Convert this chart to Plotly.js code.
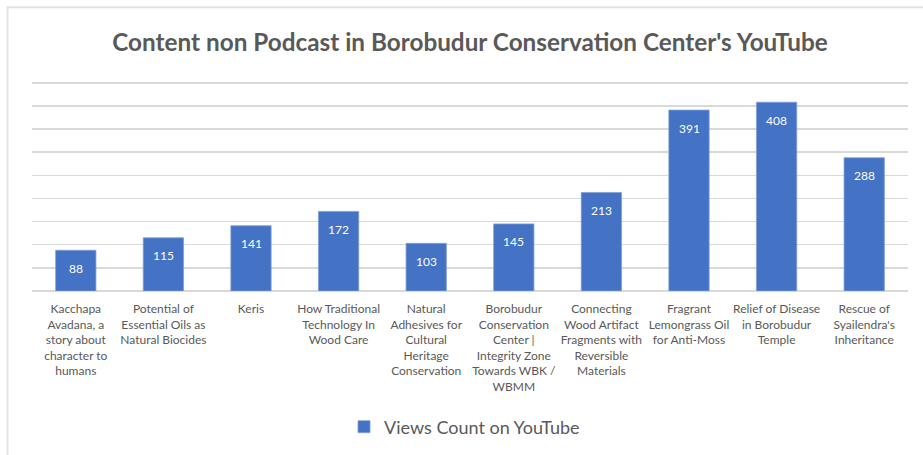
<!DOCTYPE html>
<html>
<head>
<meta charset="utf-8">
<script src="https://cdn.plot.ly/plotly-3.0.1.min.js"></script>
<style>
  html, body { margin: 0; padding: 0; background: #ffffff; }
  #chart { width: 923px; height: 455px; }
</style>
</head>
<body>
<div id="chart"></div>
<script>
const categories = [
  "Kacchapa Avadana, a story about character to humans",
  "Potential of Essential Oils as Natural Biocides",
  "Keris",
  "How Traditional Technology In Wood Care",
  "Natural Adhesives for Cultural Heritage Conservation",
  "Borobudur Conservation Center | Integrity Zone Towards WBK / WBMM",
  "Connecting Wood Artifact Fragments with Reversible Materials",
  "Fragrant Lemongrass Oil for Anti-Moss",
  "Relief of Disease in Borobudur Temple",
  "Rescue of Syailendra's Inheritance"
];
const tickLabels = [
  "Kacchapa<br>Avadana, a<br>story about<br>character to<br>humans",
  "Potential of<br>Essential Oils as<br>Natural Biocides",
  "Keris",
  "How Traditional<br>Technology In<br>Wood Care",
  "Natural<br>Adhesives for<br>Cultural<br>Heritage<br>Conservation",
  "Borobudur<br>Conservation<br>Center |<br>Integrity Zone<br>Towards WBK /<br>WBMM",
  "Connecting<br>Wood Artifact<br>Fragments with<br>Reversible<br>Materials",
  "Fragrant<br>Lemongrass Oil<br>for Anti-Moss",
  "Relief of Disease<br>in Borobudur<br>Temple",
  "Rescue of<br>Syailendra's<br>Inheritance"
];
const views = [88, 115, 141, 172, 103, 145, 213, 391, 408, 288];
const seriesName = "Views Count on YouTube";
const titleText = "Content non Podcast in Borobudur Conservation Center's YouTube";

const W = 923, H = 455;
const YMAX = 456;                 // headroom so the 450 gridline is not clipped at the edge
const pxPerUnit = 208 / 450;
const M = {l: 32, r: 15, t: 291 - YMAX * pxPerUnit, b: 164};
const pw = W - M.l - M.r, ph = H - M.t - M.b;
const px = v => (v - M.l) / pw;
const py = v => (H - M.b - v) / ph;

const FONT = "Lato, 'Liberation Sans', sans-serif";
const GREY = "#595959";

const trace = {
  type: "bar",
  x: categories,
  y: views,
  name: seriesName,
  marker: {color: "#4472C4", line: {color: "#7f9fd6", width: 0.8}},
  width: 0.46,
  hoverinfo: "x+y"
};

const valueLabels = categories.map((c, i) => ({
  x: c, y: views[i], xref: "x", yref: "y",
  text: String(views[i]), showarrow: false,
  yanchor: "middle", yshift: -18,
  font: {family: FONT, size: 12, color: "#ffffff"}
}));

const layout = {
  width: W, height: H,
  margin: M,
  paper_bgcolor: "#ffffff",
  plot_bgcolor: "#ffffff",
  font: {family: FONT, color: GREY},
  title: {
    text: "<b>" + titleText + "</b>",
    font: {family: FONT, size: 24.3, color: GREY},
    x: 0.5, xref: "paper", xanchor: "center",
    y: 1 - 42 / H, yref: "container", yanchor: "middle"
  },
  xaxis: {
    type: "category",
    tickvals: categories,
    ticktext: tickLabels,
    tickfont: {family: FONT, size: 12, color: GREY},
    tickangle: 0,
    ticklabelstandoff: 9,
    showgrid: false,
    showline: false,
    ticks: "",
    fixedrange: true
  },
  yaxis: {
    range: [0, YMAX],
    dtick: 50,
    showticklabels: false,
    showgrid: true,
    gridcolor: "#d9d9d9",
    gridwidth: 1.5,
    zeroline: true,
    zerolinecolor: "#d9d9d9",
    zerolinewidth: 1.5,
    fixedrange: true
  },
  showlegend: true,
  legend: {
    orientation: "h",
    x: px(344), xanchor: "left",
    y: 1 - 427 / H, yref: "container", yanchor: "middle",
    font: {family: FONT, size: 18, color: GREY}
  },
  annotations: valueLabels,
  shapes: [{
    type: "path", xref: "paper", yref: "paper",
    path: "M " + px(7.5) + " " + py(H + 5) + " L " + px(7.5) + " " + py(7.5) + " L " + px(W + 5) + " " + py(7.5),
    line: {color: "#e3e3e3", width: 2}
  }]
};

Plotly.newPlot("chart", [trace], layout, {displayModeBar: false, staticPlot: true});
</script>
</body>
</html>
